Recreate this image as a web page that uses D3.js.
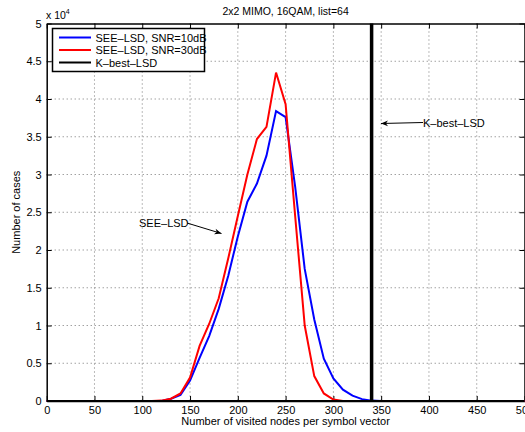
<!DOCTYPE html>
<html>
<head>
<meta charset="utf-8">
<script src="https://cdn.jsdelivr.net/npm/d3@7"></script>
<style>
body{margin:0;background:#fff;}
svg{display:block;font-family:"Liberation Sans",Arial,sans-serif;}
</style>
</head>
<body>
<svg id="svg" width="525" height="432"></svg>
<script>
// visited nodes (x), counts in units of 1e4
let nodesX=d3.range(0,510,10);
let snr10=[0,0,0,0,0,0,0,0,0,0,0,0,0,0.03,0.08,0.27,0.57,0.86,1.22,1.66,2.18,2.64,2.88,3.25,3.84,3.76,2.84,1.75,1.08,0.56,0.30,0.15,0.07,0.025,0.005,0,0,0,0,0,0,0,0,0,0,0,0,0,0,0,0];
let snr30=[0,0,0,0,0,0,0,0,0,0,0,0,0.005,0.03,0.10,0.31,0.73,1.02,1.36,1.89,2.45,3.0,3.47,3.63,4.35,3.93,2.45,1.0,0.33,0.10,0.02,0,0,0,0,0,0,0,0,0,0,0,0,0,0,0,0,0,0,0,0];
let kbestX=340;
let xTicks=[0,50,100,150,200,250,300,350,400,450,500];
let yTicks=[0,0.5,1,1.5,2,2.5,3,3.5,4,4.5,5];
let legendNames=["SEE\u2013LSD, SNR=10dB","SEE\u2013LSD, SNR=30dB","K\u2013best\u2013LSD"];
let colors=["#0000ff","#ff0000","#000000"];

const svg=d3.select("#svg");
const pLeft=46.7,pRight=524.5,pTop=23.5,pBottom=401;
const x=d3.scaleLinear().domain([0,500]).range([pLeft,pRight]);
const y=d3.scaleLinear().domain([0,5]).range([pBottom,pTop]);

// grid
svg.append("g").selectAll("line").data(xTicks.slice(1,-1)).join("line")
    .attr("x1",d=>x(d)).attr("x2",d=>x(d)).attr("y1",pTop).attr("y2",pBottom)
    .attr("stroke","#777").attr("stroke-width",1).attr("stroke-dasharray","1,3");
svg.append("g").selectAll("line").data(yTicks.slice(1,-1)).join("line")
    .attr("x1",pLeft).attr("x2",pRight).attr("y1",d=>y(d)).attr("y2",d=>y(d))
    .attr("stroke","#777").attr("stroke-width",1).attr("stroke-dasharray","1,3");

// axes
const xAxis=d3.axisBottom(x).tickValues(xTicks).tickSizeInner(-5).tickSizeOuter(0).tickPadding(5);
const yAxis=d3.axisLeft(y).tickValues(yTicks).tickSizeInner(-5).tickSizeOuter(0).tickPadding(5).tickFormat(d3.format("~g"));
svg.append("g").attr("transform","translate(0,"+pBottom+")").call(xAxis);
svg.append("g").attr("transform","translate("+pLeft+",0)").call(yAxis);
svg.append("g").attr("transform","translate(0,"+pTop+")").call(d3.axisTop(x).tickValues(xTicks).tickSizeInner(-5).tickSizeOuter(0).tickFormat(""));
svg.append("g").attr("transform","translate("+pRight+",0)").call(d3.axisRight(y).tickValues(yTicks).tickSizeInner(-5).tickSizeOuter(0).tickFormat(""));
svg.selectAll(".domain").attr("stroke","#000").attr("stroke-width",1.5);
svg.selectAll(".tick line").attr("stroke","#000").attr("stroke-width",1);
svg.selectAll(".tick text").style("font-size","11px").attr("fill","#000");

// curves
const line=d3.line().x((d,i)=>x(nodesX[i])).y(d=>y(d));
svg.append("path").datum(snr10).attr("d",line).attr("fill","none").attr("stroke",colors[0]).attr("stroke-width",2);
svg.append("path").datum(snr30).attr("d",line).attr("fill","none").attr("stroke",colors[1]).attr("stroke-width",2);
svg.append("line").attr("x1",x(kbestX)).attr("x2",x(kbestX)).attr("y1",y(0)).attr("y2",y(5))
    .attr("stroke","#000").attr("stroke-width",3.5);

// frame bottom line on top
svg.append("line").attr("x1",pLeft).attr("x2",pRight).attr("y1",pBottom).attr("y2",pBottom).attr("stroke","#000").attr("stroke-width",2);

// labels
svg.append("text").attr("x",(pLeft+pRight)/2).attr("y",15).attr("text-anchor","middle").style("font-size","10.5px").text("2x2 MIMO, 16QAM, list=64");
let mult=svg.append("text").attr("x",46).attr("y",19).style("font-size","10.5px").text("x 10");
mult.append("tspan").attr("dy",-5).style("font-size","7px").text("4");
svg.append("text").attr("x",(pLeft+pRight)/2).attr("y",425).attr("text-anchor","middle").style("font-size","11px").text("Number of visited nodes per symbol vector");
svg.append("text").attr("transform","translate(20,"+(pTop+pBottom)/2+") rotate(-90)").attr("text-anchor","middle").style("font-size","11px").text("Number of cases");

// annotations
svg.append("defs").append("marker").attr("id","arr").attr("viewBox","0 -5 10 10").attr("refX",10).attr("refY",0)
    .attr("markerWidth",9).attr("markerHeight",7).attr("orient","auto")
    .append("path").attr("d","M0,-4L10,0L0,4L3,0Z").attr("fill","#000");
svg.append("text").attr("x",139).attr("y",227).style("font-size","11px").text("SEE\u2013LSD");
svg.append("line").attr("x1",187).attr("y1",223).attr("x2",221.5).attr("y2",233.5).attr("stroke","#000").attr("stroke-width",1).attr("marker-end","url(#arr)");
svg.append("text").attr("x",423).attr("y",126.5).style("font-size","11px").text("K\u2013best\u2013LSD");
svg.append("line").attr("x1",423).attr("y1",122.5).attr("x2",381).attr("y2",123.5).attr("stroke","#000").attr("stroke-width",1).attr("marker-end","url(#arr)");

// legend
const lg=svg.append("g");
lg.append("rect").attr("x",52.5).attr("y",28.5).attr("width",152).attr("height",43).attr("fill","#fff").attr("stroke","#000").attr("stroke-width",1.5);
legendNames.forEach((n,i)=>{
    let yy=37.5+i*12.5;
    lg.append("line").attr("x1",59).attr("x2",91).attr("y1",yy).attr("y2",yy).attr("stroke",colors[i]).attr("stroke-width",2);
    lg.append("text").attr("x",95.5).attr("y",yy+4).style("font-size","11px").text(n);
});
</script>
</body>
</html>
